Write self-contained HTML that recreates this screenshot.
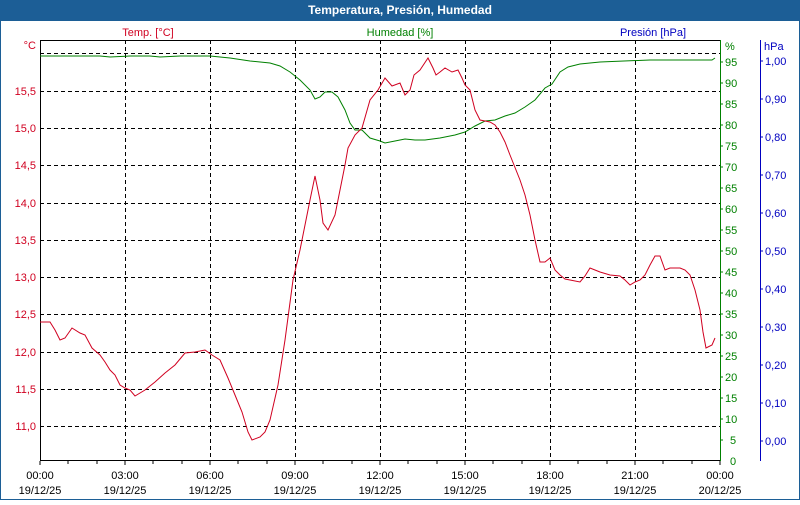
<!DOCTYPE html>
<html><head><style>
body{margin:0;width:800px;height:500px;overflow:hidden;background:#fff;font-family:"Liberation Sans",sans-serif}
</style></head><body>
<svg width="800" height="500" xmlns="http://www.w3.org/2000/svg" font-family="Liberation Sans, sans-serif" font-size="11">
<rect x="0" y="0" width="800" height="500" fill="#1c5e96"/>
<rect x="1" y="21" width="798" height="478" fill="#fff"/>
<text x="400" y="14" fill="#fff" font-weight="bold" text-anchor="middle" font-size="12">Temperatura, Presión, Humedad</text>
<text x="148" y="36" fill="#d00020" text-anchor="middle">Temp. [°C]</text>
<text x="400" y="36" fill="#008000" text-anchor="middle">Humedad [%]</text>
<text x="653" y="36" fill="#0000c0" text-anchor="middle">Presión [hPa]</text>
<g stroke="#000" stroke-dasharray="4,3" stroke-width="1">
<line x1="40" y1="53.5" x2="720" y2="53.5"/>
<line x1="40" y1="91.5" x2="720" y2="91.5"/>
<line x1="40" y1="128.5" x2="720" y2="128.5"/>
<line x1="40" y1="165.5" x2="720" y2="165.5"/>
<line x1="40" y1="203.5" x2="720" y2="203.5"/>
<line x1="40" y1="240.5" x2="720" y2="240.5"/>
<line x1="40" y1="277.5" x2="720" y2="277.5"/>
<line x1="40" y1="314.5" x2="720" y2="314.5"/>
<line x1="40" y1="352.5" x2="720" y2="352.5"/>
<line x1="40" y1="389.5" x2="720" y2="389.5"/>
<line x1="40" y1="426.5" x2="720" y2="426.5"/>
<line x1="125.5" y1="40" x2="125.5" y2="460"/>
<line x1="210.5" y1="40" x2="210.5" y2="460"/>
<line x1="295.5" y1="40" x2="295.5" y2="460"/>
<line x1="380.5" y1="40" x2="380.5" y2="460"/>
<line x1="465.5" y1="40" x2="465.5" y2="460"/>
<line x1="550.5" y1="40" x2="550.5" y2="460"/>
<line x1="635.5" y1="40" x2="635.5" y2="460"/>
</g>
<line x1="40.5" y1="40" x2="40.5" y2="461" stroke="#000"/>
<line x1="40" y1="460.5" x2="720" y2="460.5" stroke="#000"/>
<line x1="40" y1="40.5" x2="720" y2="40.5" stroke="#000"/>
<line x1="720.5" y1="40" x2="720.5" y2="461" stroke="#008000"/>
<line x1="760.5" y1="40" x2="760.5" y2="461" stroke="#0000c0"/>
<g stroke="#000">
<path d="M40 461v4M68 461v3M97 461v3M125 461v4M153 461v3M182 461v3M210 461v4M238 461v3M267 461v3M295 461v4M323 461v3M352 461v3M380 461v4M408 461v3M437 461v3M465 461v4M493 461v3M522 461v3M550 461v4M578 461v3M607 461v3M635 461v4M663 461v3M692 461v3M720 461v4"/>
</g>
<g fill="#d00020" text-anchor="end">
<text x="36" y="49">°C</text>
<text x="36" y="95">15,5</text><text x="36" y="132">15,0</text><text x="36" y="169">14,5</text><text x="36" y="207">14,0</text><text x="36" y="244">13,5</text><text x="36" y="281">13,0</text><text x="36" y="318">12,5</text><text x="36" y="356">12,0</text><text x="36" y="393">11,5</text><text x="36" y="430">11,0</text>
</g>
<g fill="#008000" font-size="11">
<text x="725" y="50">%</text>
<g id="gl"></g>
</g>
<g fill="#0000c0">
<text x="764" y="50">hPa</text>
</g>
<g fill="#000" text-anchor="middle">
<text x="40" y="479">00:00</text><text x="40" y="494">19/12/25</text>
<text x="125" y="479">03:00</text><text x="125" y="494">19/12/25</text>
<text x="210" y="479">06:00</text><text x="210" y="494">19/12/25</text>
<text x="295" y="479">09:00</text><text x="295" y="494">19/12/25</text>
<text x="380" y="479">12:00</text><text x="380" y="494">19/12/25</text>
<text x="465" y="479">15:00</text><text x="465" y="494">19/12/25</text>
<text x="550" y="479">18:00</text><text x="550" y="494">19/12/25</text>
<text x="635" y="479">21:00</text><text x="635" y="494">19/12/25</text>
<text x="720" y="479">00:00</text><text x="720" y="494">20/12/25</text>
</g>
<g id="dyn"></g>
<polyline fill="none" stroke="#008000" stroke-width="1" points="40,56 100,56 110,57 130,56 150,56 160,57 180,56 210,56 230,58 250,61 270,63 280,66 290,72 300,80 310,90 315,99 320,97 325,92 332,92 338,97 345,110 350,123 355,130 362,130 370,138 380,141 385,143 395,141 405,139 415,140 425,140 440,138 455,135 465,132 475,126 485,121 495,120 505,116 515,113 525,107 535,100 545,88 552,84 560,72 568,67 580,64 600,62 650,60 700,60 712,60 715,58"/>
<polyline fill="none" stroke="#d00020" stroke-width="1" points="40,322 50,322 55,330 60,340 65,338 72,328 80,333 85,335 92,348 100,355 105,362 110,370 115,375 120,385 125,388 130,390 135,396 145,390 155,382 165,373 175,365 185,353 195,352 205,350 212,355 220,360 228,378 235,395 242,412 248,432 252,440 260,437 265,432 270,420 278,385 285,340 293,280 300,250 305,225 310,200 315,176 320,200 323,223 328,230 335,215 340,190 345,165 348,148 355,135 362,128 370,100 378,90 385,78 392,86 400,83 405,95 410,90 414,75 420,70 428,58 433,68 436,75 440,72 445,68 452,72 458,70 462,78 465,85 470,90 475,110 480,120 490,122 495,125 500,132 505,142 510,155 520,180 525,195 530,215 535,240 540,262 545,262 550,258 555,270 560,275 565,279 570,280 580,282 585,276 590,268 595,270 600,272 610,275 620,276 625,280 630,285 635,282 640,280 645,275 650,265 655,256 660,256 665,270 670,268 675,268 680,268 685,270 690,275 695,290 700,310 703,332 706,348 712,345 715,338"/>
<g fill="#008000" stroke="none">
<text x="725" y="66">95</text><text x="725" y="87">90</text><text x="725" y="108">85</text><text x="725" y="129">80</text><text x="725" y="150">75</text><text x="725" y="171">70</text><text x="725" y="192">65</text><text x="725" y="213">60</text><text x="725" y="234">55</text><text x="725" y="255">50</text><text x="725" y="276">45</text><text x="725" y="297">40</text><text x="725" y="318">35</text><text x="725" y="339">30</text><text x="725" y="360">25</text><text x="725" y="381">20</text><text x="725" y="402">15</text><text x="725" y="423">10</text><text x="730" y="444">5</text><text x="730" y="465">0</text>
</g>
<path stroke="#008000" d="M720 62h3M720 83h3M720 104h3M720 125h3M720 146h3M720 167h3M720 188h3M720 209h3M720 230h3M720 251h3M720 272h3M720 293h3M720 314h3M720 335h3M720 356h3M720 377h3M720 398h3M720 419h3M720 440h3"/>
<g fill="#0000c0">
<text x="765" y="65">1,00</text><text x="765" y="103">0,90</text><text x="765" y="141">0,80</text><text x="765" y="179">0,70</text><text x="765" y="217">0,60</text><text x="765" y="255">0,50</text><text x="765" y="293">0,40</text><text x="765" y="331">0,30</text><text x="765" y="369">0,20</text><text x="765" y="407">0,10</text><text x="765" y="445">0,00</text>
</g>
<path stroke="#0000c0" d="M760 61h3M760 99h3M760 137h3M760 175h3M760 213h3M760 251h3M760 289h3M760 327h3M760 365h3M760 403h3M760 441h3"/>
</svg>
</body></html>
